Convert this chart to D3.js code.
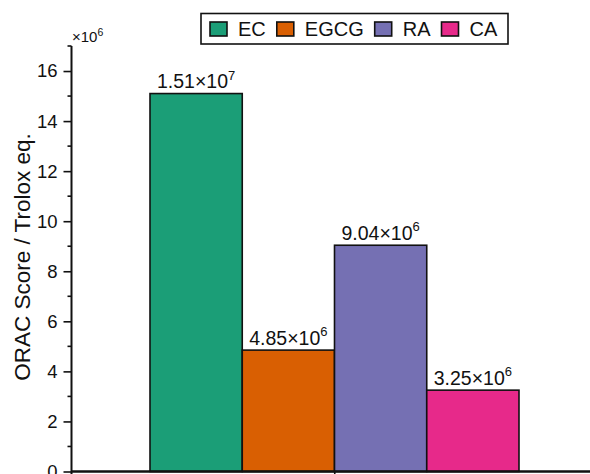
<!DOCTYPE html>
<html>
<head>
<meta charset="utf-8">
<script src="https://cdn.jsdelivr.net/npm/d3@7"></script>
<style>
  html, body { margin: 0; padding: 0; background: #fff; }
  svg { display: block; font-family: "Liberation Sans", Arial, sans-serif; }
</style>
</head>
<body>
<svg id="chart" width="590" height="474"></svg>
<script>
// ORAC scores (Trolox equivalents) for the four antioxidants
const compounds = ["EC", "EGCG", "RA", "CA"];
const oracValues = [15.1e6, 4.85e6, 9.04e6, 3.25e6];
const barColors = ["#1b9e77", "#d95f02", "#7570b3", "#e7298a"];
const yTickValues = [0, 2, 4, 6, 8, 10, 12, 14, 16];
const yMinorTicks = [1, 3, 5, 7, 9, 11, 13, 15, 17];
const yAxisTitle = "ORAC Score / Trolox eq.";
const scaleFactorExp = 6;

const svg = d3.select("#chart");
const W = 590, H = 474;
const plot = { left: 71.5, right: 600, top: 46, bottom: 471.5 };

// y scale in units of 10^6
const y = d3.scaleLinear().domain([0, 17]).range([plot.bottom, plot.top]);

// one group spanning the axis; bars sit centred in it
const group = d3.scaleBand().domain(["ORAC"]).range([plot.left, 598]);
const x = d3.scaleBand().domain(compounds).range([150, 519]).paddingInner(0);

// bars
svg.append("g").selectAll("rect")
  .data(compounds)
  .join("rect")
  .attr("x", d => x(d))
  .attr("width", x.bandwidth())
  .attr("y", (d, i) => y(oracValues[i] / 1e6))
  .attr("height", (d, i) => y(0) - y(oracValues[i] / 1e6))
  .attr("fill", (d, i) => barColors[i])
  .attr("stroke", "#111")
  .attr("stroke-width", 1.6);

// value labels written as m.mm×10^e
const labels = svg.append("g").attr("font-size", 19.5).attr("fill", "#111");
compounds.forEach((c, i) => {
  const v = oracValues[i];
  const e = Math.floor(Math.log10(v));
  const m = (v / Math.pow(10, e)).toFixed(2);
  const t = labels.append("text")
    .attr("x", x(c) + x.bandwidth() / 2)
    .attr("y", y(v / 1e6) - 5.5)
    .attr("text-anchor", "middle");
  t.append("tspan").text(m + "×10");
  t.append("tspan").attr("dy", -8.5).attr("font-size", 13).text(e);
});

// y axis with major and minor ticks
const yAxis = svg.append("g")
  .attr("transform", `translate(${plot.left},0)`)
  .call(d3.axisLeft(y).tickValues(yTickValues).tickSize(8).tickPadding(6).tickFormat(d3.format("d")));
yAxis.select(".domain").remove();
yAxis.selectAll(".tick line").attr("stroke", "#111").attr("stroke-width", 1.6);
yAxis.selectAll(".tick text").attr("font-size", 18.5).attr("fill", "#111")
  .attr("font-family", "Liberation Sans, Arial, sans-serif");
yAxis.selectAll(".minor").data(yMinorTicks).join("line")
  .attr("class", "minor")
  .attr("x1", -4).attr("x2", 0)
  .attr("y1", d => y(d)).attr("y2", d => y(d))
  .attr("stroke", "#111").attr("stroke-width", 1.6);
svg.append("line")
  .attr("x1", plot.left).attr("x2", plot.left)
  .attr("y1", plot.top).attr("y2", H)
  .attr("stroke", "#111").attr("stroke-width", 2);

// x axis
const xAxis = svg.append("g")
  .attr("transform", `translate(0,${plot.bottom})`)
  .call(d3.axisBottom(group).tickSize(8).tickFormat(""));
xAxis.select(".domain").remove();
xAxis.selectAll(".tick line").attr("stroke", "#111").attr("stroke-width", 1.6);
svg.append("line")
  .attr("x1", plot.left).attr("x2", W)
  .attr("y1", plot.bottom).attr("y2", plot.bottom)
  .attr("stroke", "#111").attr("stroke-width", 2.4);

// scale factor note above the axis
const sf = svg.append("text").attr("x", 72).attr("y", 42).attr("font-size", 15).attr("fill", "#111");
sf.append("tspan").text("×10");
sf.append("tspan").attr("dy", -6).attr("font-size", 10.5).text(scaleFactorExp);

// y axis title
svg.append("text")
  .attr("transform", "translate(30,257) rotate(-90)")
  .attr("text-anchor", "middle")
  .attr("font-size", 22.5)
  .attr("fill", "#111")
  .text(yAxisTitle);

// legend
const legend = svg.append("g");
legend.append("rect")
  .attr("x", 201).attr("y", 13.5).attr("width", 307).attr("height", 30.5)
  .attr("fill", "#fff").attr("stroke", "#111").attr("stroke-width", 1.6);
let lx = 210;
compounds.forEach((c, i) => {
  legend.append("rect")
    .attr("x", lx).attr("y", 22).attr("width", 17).attr("height", 14)
    .attr("fill", barColors[i]).attr("stroke", "#111").attr("stroke-width", 1.6);
  const t = legend.append("text")
    .attr("x", lx + 28).attr("y", 36)
    .attr("font-size", 20).attr("fill", "#111")
    .text(c);
  lx += 28 + t.node().getComputedTextLength() + 11;
});
</script>
</body>
</html>
